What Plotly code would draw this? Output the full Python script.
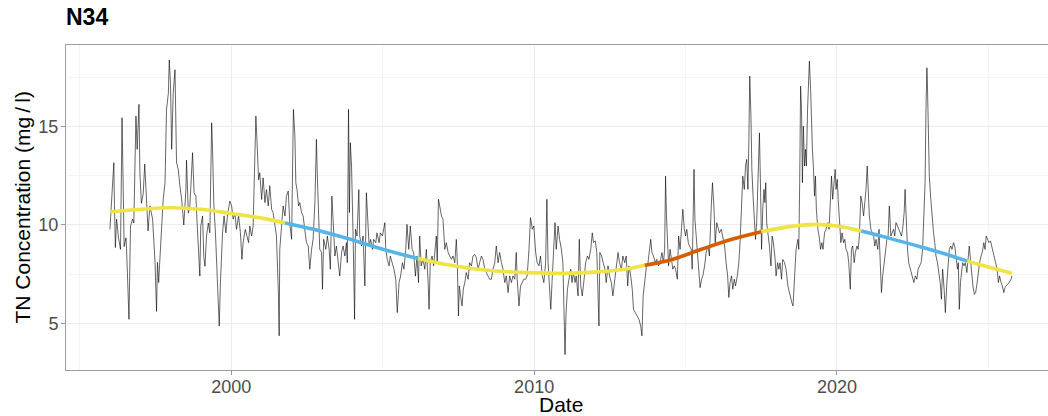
import plotly.graph_objects as go

# ---------------- observed TN concentration (decimal year, mg/l) ----------------
year_1996 = [1995.99, 1996.12, 1996.14, 1996.17, 1996.21, 1996.27, 1996.34, 1996.39, 1996.43, 1996.46,
             1996.52, 1996.54, 1996.62, 1996.67, 1996.74, 1996.78, 1996.85, 1996.89, 1996.95, 1996.98,
             1997.03, 1997.09, 1997.14, 1997.20, 1997.25, 1997.31, 1997.40, 1997.48, 1997.53, 1997.56,
             1997.60, 1997.64, 1997.70, 1997.75, 1997.81, 1997.86, 1997.92, 1997.95, 1997.99, 1998.03,
             1998.08, 1998.14, 1998.19, 1998.25, 1998.30, 1998.36, 1998.43, 1998.50, 1998.52, 1998.58]
tn_1996 = [9.78, 13.17, 11.0, 8.85, 10.3, 9.4, 8.76, 15.46, 11.8, 8.9,
           9.35, 8.8, 5.2, 9.95, 10.3, 10.1, 15.54, 13.85, 16.14, 12.66,
           11.1, 11.6, 13.1, 11.3, 9.7, 10.97, 10.3, 8.1, 5.6, 8.1,
           7.07, 8.25, 9.95, 11.3, 12.15, 15.88, 16.7, 18.4, 17.2, 13.85,
           16.7, 17.9, 13.2, 12.8, 12.0, 11.3, 10.0, 11.8, 13.3, 10.6]

year_1999 = [1998.63, 1998.72, 1998.77, 1998.83, 1998.87, 1998.93, 1998.96, 1998.99, 1999.05, 1999.09,
             1999.13, 1999.18, 1999.24, 1999.29, 1999.35, 1999.38, 1999.42, 1999.48, 1999.53, 1999.60,
             1999.64, 1999.71, 1999.76, 1999.82, 1999.87, 1999.95, 2000.01, 2000.06, 2000.12, 2000.17,
             2000.24, 2000.30, 2000.35, 2000.39, 2000.46, 2000.52, 2000.57, 2000.61, 2000.67, 2000.72,
             2000.78, 2000.81, 2000.85, 2000.90, 2000.94, 2001.00, 2001.05, 2001.11, 2001.16, 2001.22,
             2001.27, 2001.33, 2001.38, 2001.44, 2001.49, 2001.55, 2001.58, 2001.60, 2001.66, 2001.71,
             2001.77, 2001.82, 2001.88, 2001.93, 2001.99, 2002.02, 2002.05, 2002.10, 2002.13, 2002.17,
             2002.22, 2002.26, 2002.32, 2002.37, 2002.43, 2002.48]
tn_1999 = [10.97, 13.68, 11.64, 11.47, 10.1, 8.25, 7.4, 9.95, 10.46, 8.4,
           7.9, 9.44, 10.1, 9.6, 15.2, 13.85, 11.14, 9.44, 7.24, 4.86,
           7.07, 9.6, 10.46, 9.6, 10.46, 11.22, 10.97, 10.3, 10.6, 9.78,
           10.46, 9.6, 8.25, 9.1, 9.78, 9.44, 9.1, 9.95, 9.44, 9.95,
           13.17, 15.54, 14.19, 12.3, 12.66, 11.3, 12.4, 11.14, 11.8, 10.97,
           12.0, 10.8, 10.63, 10.1, 9.44, 6.73, 4.36, 8.76, 10.1, 10.97,
           10.46, 11.47, 11.73, 10.1, 9.27, 13.0, 15.88, 14.5, 12.15, 11.8,
           10.97, 11.14, 10.63, 10.46, 9.78, 9.1]

year_2003 = [2002.54, 2002.59, 2002.65, 2002.70, 2002.76, 2002.79, 2002.81, 2002.84, 2002.88, 2002.92,
             2002.98, 2003.01, 2003.05, 2003.12, 2003.17, 2003.23, 2003.27, 2003.32, 2003.36, 2003.42,
             2003.47, 2003.53, 2003.58, 2003.64, 2003.69, 2003.75, 2003.80, 2003.83, 2003.87, 2003.90,
             2003.93, 2003.97, 2004.00, 2004.03, 2004.07, 2004.10, 2004.15, 2004.21, 2004.24, 2004.30,
             2004.35, 2004.41, 2004.46, 2004.51, 2004.55, 2004.60, 2004.66, 2004.70, 2004.77, 2004.81,
             2004.88, 2004.92, 2004.99, 2005.07, 2005.10, 2005.15, 2005.21, 2005.25, 2005.32, 2005.37,
             2005.43, 2005.48, 2005.54, 2005.59, 2005.65, 2005.70, 2005.76, 2005.80, 2005.86, 2005.91,
             2005.97, 2006.02, 2006.08, 2006.13, 2006.18, 2006.22, 2006.27, 2006.33, 2006.39, 2006.44,
             2006.50]
tn_2003 = [8.93, 7.75, 8.76, 9.27, 11.14, 12.66, 14.36, 12.5, 10.3, 8.76,
           8.6, 6.73, 9.27, 8.76, 9.44, 8.76, 7.75, 11.47, 10.3, 8.42,
           8.93, 8.08, 7.4, 8.6, 8.93, 8.42, 9.1, 8.08, 15.88, 10.63,
           14.19, 13.0, 9.78, 8.76, 5.2, 9.78, 9.44, 11.8, 9.44, 8.93,
           9.44, 6.9, 11.64, 9.78, 8.93, 9.27, 8.76, 9.27, 9.1, 9.6,
           9.1, 9.6, 9.44, 10.12, 8.76, 8.25, 7.92, 8.42, 8.08, 7.75,
           7.24, 5.54, 7.07, 7.4, 8.08, 7.75, 8.76, 10.03, 8.76, 9.95,
           8.76, 8.6, 7.4, 8.42, 7.07, 9.44, 7.92, 8.25, 7.75, 8.76,
           7.07]

year_2007 = [2006.53, 2006.57, 2006.63, 2006.68, 2006.73, 2006.77, 2006.80, 2006.84, 2006.88, 2006.94,
             2006.99, 2007.05, 2007.10, 2007.16, 2007.21, 2007.27, 2007.32, 2007.38, 2007.43, 2007.46,
             2007.50, 2007.53, 2007.57, 2007.62, 2007.66, 2007.71, 2007.76, 2007.82, 2007.87, 2007.93,
             2007.98, 2008.04, 2008.09, 2008.15, 2008.20, 2008.26, 2008.31, 2008.37, 2008.42, 2008.48,
             2008.53, 2008.59, 2008.64, 2008.70, 2008.75, 2008.81, 2008.86, 2008.92, 2008.97, 2009.03,
             2009.08, 2009.14, 2009.19, 2009.25, 2009.30, 2009.36, 2009.41, 2009.44, 2009.50, 2009.55,
             2009.61, 2009.66, 2009.72, 2009.77, 2009.83, 2009.88, 2009.94, 2009.99, 2010.05, 2010.10,
             2010.16, 2010.21, 2010.27, 2010.32, 2010.38, 2010.42]
tn_2007 = [5.71, 8.08, 8.42, 7.92, 8.76, 9.44, 8.08, 11.31, 10.97, 10.46,
           10.29, 8.76, 9.1, 8.6, 8.42, 8.25, 8.42, 8.08, 9.27, 8.25,
           5.37, 6.9, 6.39, 5.88, 6.73, 7.07, 7.58, 7.24, 8.08, 7.92,
           8.42, 8.5, 8.34, 7.75, 8.08, 8.42, 8.25, 7.75, 7.58, 7.41,
           7.24, 7.24, 7.75, 8.08, 8.93, 8.08, 8.6, 8.08, 7.75, 7.07,
           7.41, 6.56, 7.41, 7.07, 7.41, 7.24, 8.6, 7.24, 5.88, 6.9,
           7.07, 7.24, 7.24, 7.41, 8.76, 10.37, 9.78, 9.95, 8.6, 8.08,
           7.92, 8.42, 7.41, 7.07, 8.08, 11.31]

year_2011 = [2010.46, 2010.51, 2010.55, 2010.59, 2010.64, 2010.69, 2010.73, 2010.79, 2010.84, 2010.90,
             2010.95, 2010.98, 2011.02, 2011.05, 2011.10, 2011.15, 2011.21, 2011.25, 2011.30, 2011.35,
             2011.39, 2011.45, 2011.49, 2011.54, 2011.59, 2011.65, 2011.70, 2011.76, 2011.81, 2011.87,
             2011.92, 2011.96, 2012.02, 2012.07, 2012.11, 2012.14, 2012.17, 2012.23, 2012.28, 2012.34,
             2012.38, 2012.44, 2012.49, 2012.55, 2012.60, 2012.66, 2012.71, 2012.77, 2012.82, 2012.88,
             2012.93, 2012.99, 2013.04, 2013.09, 2013.13, 2013.19, 2013.24, 2013.28, 2013.34, 2013.39,
             2013.46, 2013.52, 2013.56, 2013.60, 2013.66, 2013.71, 2013.76, 2013.81, 2013.85, 2013.89,
             2013.94, 2014.00, 2014.05, 2014.11, 2014.16, 2014.22, 2014.27, 2014.31, 2014.34, 2014.37,
             2014.41]
tn_2011 = [8.08, 6.39, 5.71, 7.07, 8.42, 10.12, 8.76, 9.95, 9.27, 8.76,
           8.08, 6.05, 3.4, 5.37, 6.73, 7.24, 7.75, 7.07, 7.58, 7.07,
           7.41, 6.39, 9.27, 6.9, 6.39, 7.24, 8.08, 8.42, 8.25, 8.76,
           9.6, 9.1, 9.19, 8.6, 6.56, 4.86, 8.6, 8.42, 8.08, 7.75,
           7.07, 7.92, 7.41, 7.07, 6.39, 7.24, 8.08, 8.6, 8.08, 7.75,
           8.42, 8.08, 8.42, 6.9, 7.92, 7.41, 6.73, 5.71, 5.54, 5.37,
           5.2, 4.86, 4.36, 6.39, 7.41, 7.92, 8.08, 8.76, 9.27, 8.6,
           8.42, 8.08, 8.25, 7.92, 8.08, 8.6, 8.08, 8.76, 12.49, 10.46,
           8.76]

year_2015 = [2014.44, 2014.49, 2014.54, 2014.58, 2014.63, 2014.67, 2014.73, 2014.77, 2014.82, 2014.87,
             2014.91, 2014.96, 2015.00, 2015.04, 2015.09, 2015.13, 2015.19, 2015.22, 2015.25, 2015.28,
             2015.31, 2015.35, 2015.40, 2015.44, 2015.48, 2015.53, 2015.57, 2015.63, 2015.68, 2015.74,
             2015.79, 2015.85, 2015.89, 2015.94, 2015.98, 2016.03, 2016.08, 2016.12, 2016.18, 2016.23,
             2016.29, 2016.34, 2016.39, 2016.43, 2016.47, 2016.52, 2016.56, 2016.61, 2016.65, 2016.71,
             2016.76, 2016.80, 2016.85, 2016.89, 2016.94, 2016.98, 2017.02, 2017.06, 2017.09, 2017.12,
             2017.16, 2017.19, 2017.23, 2017.28, 2017.31, 2017.35, 2017.40, 2017.44, 2017.48, 2017.51,
             2017.55, 2017.59, 2017.62, 2017.65, 2017.68, 2017.73, 2017.77, 2017.82, 2017.86, 2017.90,
             2017.95, 2017.99, 2018.04, 2018.08, 2018.12, 2018.17, 2018.21, 2018.27, 2018.32, 2018.38]
tn_2015 = [7.92, 8.76, 8.08, 7.75, 7.92, 7.75, 7.24, 9.44, 8.76, 9.95,
           10.8, 9.78, 9.44, 9.78, 9.1, 8.93, 8.76, 7.75, 11.81, 12.83,
           10.29, 9.44, 8.42, 7.41, 6.81, 7.24, 7.41, 7.92, 8.6, 8.93,
           8.42, 10.97, 12.15, 10.8, 9.1, 10.12, 9.78, 9.6, 9.78, 9.44,
           8.93, 8.08, 7.41, 6.31, 7.07, 7.41, 6.73, 7.24, 6.9, 7.41,
           8.08, 9.1, 10.63, 12.49, 11.81, 13.0, 13.34, 11.81, 14.19, 17.58,
           15.54, 12.83, 11.47, 9.95, 9.27, 10.12, 13.0, 14.69, 11.64, 8.76,
           10.8, 11.81, 11.14, 12.15, 10.12, 9.6, 8.93, 7.92, 9.44, 9.1,
           8.42, 7.41, 8.08, 7.75, 8.08, 7.24, 8.25, 8.08, 7.75, 6.9]

year_2019 = [2018.45, 2018.51, 2018.55, 2018.60, 2018.65, 2018.71, 2018.74, 2018.77, 2018.80, 2018.83,
             2018.86, 2018.89, 2018.93, 2018.96, 2018.99, 2019.03, 2019.06, 2019.09, 2019.13, 2019.16,
             2019.19, 2019.22, 2019.26, 2019.29, 2019.32, 2019.37, 2019.41, 2019.46, 2019.50, 2019.54,
             2019.59, 2019.64, 2019.70, 2019.74, 2019.79, 2019.82, 2019.86, 2019.91, 2019.94, 2019.97,
             2020.01, 2020.04, 2020.08, 2020.13, 2020.17, 2020.22, 2020.26, 2020.30, 2020.35, 2020.39,
             2020.44, 2020.48, 2020.52, 2020.57, 2020.61, 2020.66, 2020.70, 2020.74, 2020.79, 2020.83,
             2020.88, 2020.92, 2020.96, 2021.00, 2021.03, 2021.07, 2021.12, 2021.16, 2021.21, 2021.25,
             2021.29, 2021.35, 2021.39, 2021.43, 2021.47, 2021.51, 2021.56, 2021.60, 2021.65, 2021.69,
             2021.73, 2021.78, 2021.82, 2021.87, 2021.91, 2021.95, 2022.00, 2022.04, 2022.09, 2022.13,
             2022.17, 2022.22, 2022.25, 2022.28, 2022.33]
tn_2019 = [6.39, 6.05, 5.88, 7.07, 8.76, 9.27, 8.76, 12.15, 17.07, 15.88,
           12.15, 15.03, 13.0, 13.85, 13.0, 15.88, 17.24, 18.34, 16.9, 15.03,
           13.85, 13.0, 11.47, 12.49, 10.8, 9.78, 9.44, 8.76, 9.1, 8.76,
           9.6, 9.78, 10.12, 9.78, 11.81, 12.49, 11.31, 12.15, 12.83, 11.81,
           12.32, 11.31, 10.46, 9.1, 9.6, 9.1, 9.27, 8.76, 8.6, 8.08,
           6.73, 8.76, 8.93, 8.08, 8.6, 8.93, 8.76, 9.44, 11.47, 11.14,
           10.46, 11.14, 11.81, 13.0, 11.81, 10.46, 9.78, 9.6, 9.44, 8.93,
           9.27, 8.76, 9.78, 8.08, 6.56, 7.41, 8.08, 8.76, 9.27, 9.44,
           10.97, 9.44, 9.6, 9.78, 9.44, 10.12, 9.95, 9.78, 9.6, 9.44,
           9.78, 10.63, 11.81, 10.46, 8.76]

year_2023 = [2022.37, 2022.43, 2022.48, 2022.54, 2022.59, 2022.64, 2022.68, 2022.72, 2022.78, 2022.83,
             2022.88, 2022.91, 2022.94, 2022.97, 2022.99, 2023.02, 2023.05, 2023.10, 2023.14, 2023.19,
             2023.23, 2023.27, 2023.32, 2023.36, 2023.41, 2023.45, 2023.49, 2023.54, 2023.58, 2023.63,
             2023.67, 2023.71, 2023.76, 2023.80, 2023.85, 2023.89, 2023.93, 2023.98, 2024.01, 2024.04,
             2024.08, 2024.11, 2024.15, 2024.20, 2024.24, 2024.29, 2024.33, 2024.37, 2024.41, 2024.45,
             2024.49, 2024.54, 2024.58, 2024.63, 2024.67, 2024.71, 2024.76, 2024.80, 2024.85, 2024.89,
             2024.93, 2024.98, 2025.02, 2025.07, 2025.11, 2025.15, 2025.20, 2025.24, 2025.29, 2025.33,
             2025.37, 2025.42, 2025.46, 2025.51, 2025.55, 2025.59, 2025.64, 2025.69, 2025.75, 2025.78]
tn_2023 = [8.08, 7.75, 7.41, 7.07, 7.41, 7.24, 7.75, 7.92, 8.08, 8.76,
           10.46, 12.15, 15.88, 18.0, 17.07, 14.19, 12.49, 11.31, 10.29, 9.61,
           9.1, 8.42, 8.08, 7.58, 7.07, 6.22, 7.75, 6.73, 5.54, 7.07,
           7.75, 8.76, 8.93, 8.76, 9.1, 8.93, 8.42, 7.75, 8.08, 5.71,
           7.07, 7.41, 8.08, 7.92, 8.08, 7.58, 8.42, 8.93, 8.25, 7.41,
           6.9, 6.47, 6.56, 7.07, 7.75, 8.08, 8.42, 8.6, 9.1, 8.76,
           9.44, 9.27, 9.1, 9.19, 8.93, 8.6, 8.25, 8.08, 7.75, 7.07,
           7.41, 7.07, 6.9, 6.56, 6.81, 6.9, 6.98, 7.07, 7.24, 7.41]

# ---------------- smoothed trend and its classification ----------------
trend_year = [1996.0, 1997.0, 1998.0, 1999.0, 2000.0, 2001.0, 2001.77, 2003.0, 2004.0, 2005.0,
              2006.17, 2007.0, 2008.0, 2009.0, 2010.0, 2011.0, 2012.0, 2013.0, 2013.65, 2014.5,
              2015.5, 2016.5, 2017.5, 2018.5, 2019.3, 2020.0, 2020.8, 2021.5, 2022.5, 2023.5,
              2024.3, 2025.0, 2025.78]
trend_value = [10.66, 10.80, 10.88, 10.80, 10.58, 10.35, 10.10, 9.67, 9.24, 8.77,
               8.29, 8.01, 7.77, 7.63, 7.57, 7.54, 7.60, 7.75, 7.95, 8.22,
               8.75, 9.26, 9.66, 9.93, 10.03, 9.95, 9.69, 9.42, 9.00, 8.56,
               8.16, 7.86, 7.54]
segment_breaks = [1996.0, 2001.77, 2006.17, 2013.65, 2017.5, 2020.8, 2024.3, 2025.78]
segment_class = ["none", "decrease", "none", "increase", "none", "decrease", "none"]
class_colour = {"none": "#F0E442", "decrease": "#56B4E9", "increase": "#D55E00"}

x_ticks = [2000, 2010, 2020]
x_minor = [1995, 2005, 2015, 2025]
y_ticks = [5, 10, 15]
y_minor = [7.5, 12.5, 17.5]

date_year = year_1996 + year_1999 + year_2003 + year_2007 + year_2011 + year_2015 + year_2019 + year_2023
tn_value = tn_1996 + tn_1999 + tn_2003 + tn_2007 + tn_2011 + tn_2015 + tn_2019 + tn_2023

FONT = "Liberation Sans, Arial, Helvetica, sans-serif"

fig = go.Figure()
fig.add_trace(go.Scatter(x=date_year, y=tn_value, mode="lines",
                         line=dict(color="#000000", width=0.6),
                         showlegend=False, hoverinfo="skip"))

for i, cls in enumerate(segment_class):
    lo, hi = segment_breaks[i], segment_breaks[i + 1]
    xs = [x for x in trend_year if lo <= x <= hi]
    ys = [v for x, v in zip(trend_year, trend_value) if lo <= x <= hi]
    fig.add_trace(go.Scatter(x=xs, y=ys, mode="lines",
                             line=dict(color=class_colour[cls], width=3.6, shape="spline", smoothing=1.0),
                             showlegend=False, hoverinfo="skip"))

axis_common = dict(
    showgrid=True, gridcolor="#EBEBEB", gridwidth=1,
    ticks="outside", ticklen=4, tickwidth=1, tickcolor="#999999",
    tickfont=dict(size=18, color="#4D4D4D", family=FONT),
    showline=True, linecolor="#9E9E9E", linewidth=1,
    zeroline=False, automargin=False,
)

fig.update_layout(
    width=1048, height=416,
    margin=dict(l=66, r=0, t=45, b=46, autoexpand=False),
    paper_bgcolor="white", plot_bgcolor="white",
    font=dict(family=FONT, color="#000000"),
    title=dict(text="<b>N34</b>", x=0, xref="paper", xanchor="left",
               y=1 - 17 / 416, yref="container", yanchor="middle",
               font=dict(size=23, color="#000000", family=FONT)),
    xaxis=dict(range=[1994.54, 2026.97], tickmode="array", tickvals=x_ticks,
               ticktext=[str(t) for t in x_ticks], ticklabelstandoff=-4,
               minor=dict(tickmode="array", tickvals=x_minor, showgrid=True,
                          gridcolor="#F4F4F4", gridwidth=1, ticks=""),
               mirror=True, **axis_common),
    yaxis=dict(range=[2.62, 19.16], tickmode="array", tickvals=y_ticks,
               ticktext=[str(t) for t in y_ticks], ticklabelstandoff=-1,
               minor=dict(tickmode="array", tickvals=y_minor, showgrid=True,
                          gridcolor="#F4F4F4", gridwidth=1, ticks=""),
               mirror=False, **axis_common),
    annotations=[
        dict(text="Date", xref="paper", yref="paper", x=(561 - 66) / 982, y=(370 - 404) / 325,
             xanchor="center", yanchor="middle", showarrow=False,
             font=dict(size=21, color="#000000", family=FONT)),
        dict(text="TN Concentration (mg\u2009/\u2009l)", xref="paper", yref="paper",
             x=(22 - 66) / 982, y=0.5, xanchor="center", yanchor="middle", textangle=-90,
             showarrow=False, font=dict(size=21, color="#000000", family=FONT)),
    ],
)

fig.write_html("out.html", config={"displayModeBar": False},
               post_script="document.body.style.margin='0';document.body.style.overflow='hidden';")
